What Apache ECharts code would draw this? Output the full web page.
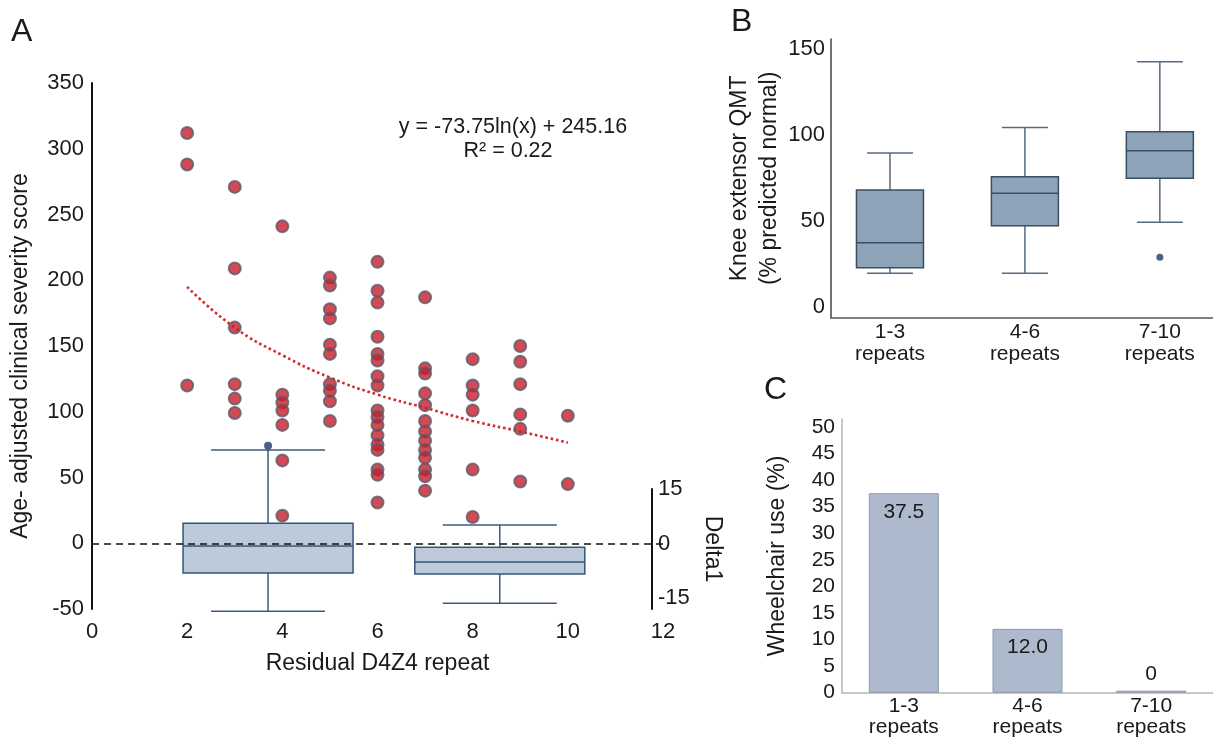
<!DOCTYPE html>
<html>
<head>
<meta charset="utf-8">
<title>D4Z4 repeat vs severity</title>
<script src="https://cdn.jsdelivr.net/npm/echarts@6.0.0/dist/echarts.min.js"></script>
<style>
  html, body { margin: 0; padding: 0; background: #fff; }
  #chart { width: 1213px; height: 738px; }
</style>
</head>
<body>
<div id="chart"></div>
<script>
// Panel A: severity score per residual repeat
const repeatX = [2, 3, 4, 5, 6, 7, 8, 9, 10]
const severity = [
  [312, 288, 120],
  [271, 209, 164, 121, 110, 99],
  [241, 113, 107, 101, 90, 63, 21],
  [202, 196, 178, 171, 151, 144, 121, 116, 108, 93],
  [214, 192, 183, 157, 144, 139, 127, 120, 101, 96, 90, 82, 75, 71, 56, 52, 31],
  [187, 133, 129, 114, 105, 93, 85, 78, 71, 65, 56, 51, 40],
  [140, 120, 113, 101, 56, 20],
  [150, 138, 121, 98, 87, 47],
  [97, 45]
]
// fitted log curve at each repeat
const trendY = [195, 164, 143, 126, 113, 103, 93, 85, 76.5]
const yTicksA = [-50, 0, 50, 100, 150, 200, 250, 300, 350]

// Delta1 boxes: [center, min, q1, median, q3, max]
const deltaBoxes = [
  [3.7, -18.6, -8.1, -0.7, 5.6, 25.7],
  [8.57, -16.4, -8.4, -5.1, -1.0, 5.1]
]
const deltaOutliers = [[3.7, 26.9]]
const deltaTicks = [-15, 0, 15]

// Panel B: knee extensor QMT
const catB = ['1-3\nrepeats', '4-6\nrepeats', '7-10\nrepeats']
const qmtBoxes = [
  [1, 19.5, 22.7, 37.3, 68.0, 89.6],
  [2, 19.5, 47.2, 66.1, 75.8, 104.5],
  [3, 49.2, 74.8, 90.9, 102.0, 142.8]
]
const qmtOutliers = [[3, 28.8]]
const yTicksB = [0, 50, 100, 150]

// Panel C: wheelchair use
const catC = ['1-3\nrepeats', '4-6\nrepeats', '7-10\nrepeats']
const wheelchair = [37.5, 12.0, 0]
const yTicksC = [0, 5, 10, 15, 20, 25, 30, 35, 40, 45, 50]

const FONT = "'Liberation Sans', Arial, sans-serif"
const TXT = '#1a1a1a'

const scatterData = []
severity.forEach((vals, i) => {
  vals.forEach(v => scatterData.push([repeatX[i], v]))
})

function boxRenderer(boxPx, capPx, fill, stroke, whisker) {
  return function(params, api) {
    const x = api.value(0)
    const lo = api.coord([x, api.value(1)])
    const q1 = api.coord([x, api.value(2)])
    const med = api.coord([x, api.value(3)])
    const q3 = api.coord([x, api.value(4)])
    const hi = api.coord([x, api.value(5)])
    const cx = lo[0]
    const hb = boxPx / 2
    const hc = capPx / 2
    const ws = { stroke: whisker, lineWidth: 1.5 }
    return {
      type: 'group',
      children: [
        { type: 'line', shape: { x1: cx, y1: hi[1], x2: cx, y2: q3[1] }, style: ws },
        { type: 'line', shape: { x1: cx, y1: q1[1], x2: cx, y2: lo[1] }, style: ws },
        { type: 'line', shape: { x1: cx - hc, y1: hi[1], x2: cx + hc, y2: hi[1] }, style: ws },
        { type: 'line', shape: { x1: cx - hc, y1: lo[1], x2: cx + hc, y2: lo[1] }, style: ws },
        {
          type: 'rect',
          shape: { x: cx - hb, y: q3[1], width: boxPx, height: q1[1] - q3[1] },
          style: { fill: fill, stroke: stroke, lineWidth: 1.5 }
        },
        { type: 'line', shape: { x1: cx - hb, y1: med[1], x2: cx + hb, y2: med[1] }, style: { stroke: stroke, lineWidth: 1.5 } }
      ]
    }
  }
}

function txt(size, extra) {
  return Object.assign({ color: TXT, fontSize: size, fontFamily: FONT }, extra || {})
}

const chart = echarts.init(document.getElementById('chart'))
chart.setOption({
  animation: false,
  backgroundColor: '#fff',
  textStyle: { fontFamily: FONT },
  grid: [
    { left: 92, top: 83, width: 571, height: 526 },
    // Delta1 overlay: ends at its own axis, x scale kept equal to panel A
    { left: 92, top: 489, width: 560, height: 120 },
    { left: 831, top: 39, width: 382, height: 278.7 },
    { left: 842, top: 419, width: 380, height: 273.7 }
  ],
  xAxis: [
    {
      gridIndex: 0,
      type: 'value',
      min: 0,
      max: 12,
      interval: 2,
      axisLine: { show: false },
      axisTick: { show: false },
      splitLine: { show: false },
      axisLabel: txt(22, { margin: 12 }),
      name: 'Residual D4Z4 repeat',
      nameLocation: 'middle',
      nameGap: 43,
      nameTextStyle: txt(23)
    },
    { gridIndex: 1, type: 'value', min: 0, max: 12 * 560 / 571, show: false },
    {
      gridIndex: 2,
      type: 'value',
      min: 0.563,
      max: 3.394,
      axisLine: { show: true, onZero: false, lineStyle: { color: '#555', width: 1.5 } },
      axisTick: { show: false },
      splitLine: { show: false },
      axisLabel: txt(21, {
        margin: 4,
        lineHeight: 22,
        customValues: [1, 2, 3],
        formatter: v => catB[Math.round(v) - 1]
      })
    },
    {
      gridIndex: 3,
      type: 'category',
      data: catC,
      axisLine: { show: true, onZero: false, lineStyle: { color: '#b5b5b5', width: 1.5 } },
      axisTick: { show: false },
      axisLabel: txt(21, { margin: 3, lineHeight: 21 })
    }
  ],
  yAxis: [
    {
      gridIndex: 0,
      type: 'value',
      min: -50,
      max: 350,
      interval: 50,
      axisLine: { show: true, onZero: false, lineStyle: { color: '#111', width: 2 } },
      axisTick: { show: false },
      splitLine: { show: false },
      axisLabel: txt(22, { margin: 8, customValues: yTicksA }),
      name: 'Age- adjusted clinical severity score',
      nameLocation: 'middle',
      nameGap: 60,
      nameTextStyle: txt(23, { padding: [0, 20, 0, 0] })
    },
    {
      gridIndex: 1,
      type: 'value',
      position: 'right',
      min: -18,
      max: 15,
      axisLine: { show: true, onZero: false, lineStyle: { color: '#111', width: 2 } },
      axisTick: { show: false },
      splitLine: { show: false },
      axisLabel: txt(22, { margin: 6, customValues: deltaTicks }),
      name: 'Delta1',
      nameLocation: 'middle',
      nameRotate: -90,
      nameGap: 49,
      nameTextStyle: txt(23)
    },
    {
      gridIndex: 2,
      type: 'value',
      min: -6.4,
      max: 156,
      axisLine: { show: true, onZero: false, lineStyle: { color: '#444', width: 1.5 } },
      axisTick: { show: false },
      splitLine: { show: false },
      axisLabel: txt(22, { margin: 6, customValues: yTicksB }),
      name: 'Knee extensor QMT\n(% predicted normal)',
      nameLocation: 'middle',
      nameGap: 34,
      nameTextStyle: txt(23, { lineHeight: 30 })
    },
    {
      gridIndex: 3,
      type: 'value',
      min: 0,
      max: 51.45,
      axisLine: { show: true, onZero: false, lineStyle: { color: '#b5b5b5', width: 1.5 } },
      axisTick: { show: false },
      splitLine: { show: false },
      axisLabel: txt(21, { margin: 7, customValues: yTicksC }),
      name: 'Wheelchair use (%)',
      nameLocation: 'middle',
      nameGap: 53,
      nameTextStyle: txt(23)
    }
  ],
  graphic: [
    { type: 'text', left: 11, top: 16, style: { text: 'A', font: '32px ' + FONT, fill: TXT } },
    { type: 'text', left: 731, top: 6, style: { text: 'B', font: '32px ' + FONT, fill: TXT } },
    { type: 'text', left: 764, top: 374, style: { text: 'C', font: '32px ' + FONT, fill: TXT } },
    {
      type: 'text', x: 513, y: 127,
      style: { text: 'y = -73.75ln(x) + 245.16', font: '21.5px ' + FONT, fill: TXT, align: 'center', verticalAlign: 'middle' }
    },
    {
      type: 'text', x: 508, y: 151,
      style: { text: 'R\u00b2 = 0.22', font: '21.5px ' + FONT, fill: TXT, align: 'center', verticalAlign: 'middle' }
    }
  ],
  series: [
    {
      name: 'Delta1',
      type: 'custom',
      xAxisIndex: 1,
      yAxisIndex: 1,
      z: 2,
      renderItem: boxRenderer(170, 114, '#bccad9', '#34567d', '#3d5a80'),
      encode: { x: 0, y: [1, 2, 3, 4, 5] },
      data: deltaBoxes
    },
    {
      type: 'scatter',
      xAxisIndex: 1,
      yAxisIndex: 1,
      clip: false,
      z: 3,
      symbolSize: 8,
      itemStyle: { color: '#1f3a66' },
      data: deltaOutliers
    },
    {
      name: 'Severity',
      type: 'scatter',
      xAxisIndex: 0,
      yAxisIndex: 0,
      z: 5,
      symbolSize: 12,
      itemStyle: { color: '#c81d2a', borderColor: '#595c6b', borderWidth: 2 },
      data: scatterData,
      markLine: {
        silent: true,
        symbol: 'none',
        label: { show: false },
        lineStyle: { color: '#111', type: [7, 5], width: 1.6 },
        data: [{ yAxis: 0 }]
      }
    },
    {
      name: 'Trend',
      type: 'line',
      xAxisIndex: 0,
      yAxisIndex: 0,
      z: 4,
      smooth: true,
      showSymbol: false,
      lineStyle: { color: '#d02a2a', width: 2.6, type: [2.6, 2.8] },
      data: repeatX.map((x, i) => [x, trendY[i]])
    },
    {
      name: 'QMT',
      type: 'custom',
      xAxisIndex: 2,
      yAxisIndex: 2,
      renderItem: boxRenderer(67, 46, '#8ea3b8', '#3a4d66', '#566a82'),
      encode: { x: 0, y: [1, 2, 3, 4, 5] },
      data: qmtBoxes
    },
    {
      type: 'scatter',
      xAxisIndex: 2,
      yAxisIndex: 2,
      symbolSize: 7,
      itemStyle: { color: '#1f3a66' },
      data: qmtOutliers
    },
    {
      name: 'Wheelchair',
      type: 'bar',
      xAxisIndex: 3,
      yAxisIndex: 3,
      barWidth: 70,
      barMinHeight: 2,
      itemStyle: { color: '#adb9cc', borderColor: '#8d99ab', borderWidth: 1 },
      label: {
        show: true,
        position: 'insideTop',
        distance: 8,
        color: TXT,
        fontSize: 21,
        fontFamily: FONT,
        formatter: p => (p.value === 0 ? '0' : p.value.toFixed(1))
      },
      data: wheelchair.map(v => (v === 0 ? { value: v, label: { position: 'top', distance: 6 } } : v))
    }
  ]
})
</script>
</body>
</html>
